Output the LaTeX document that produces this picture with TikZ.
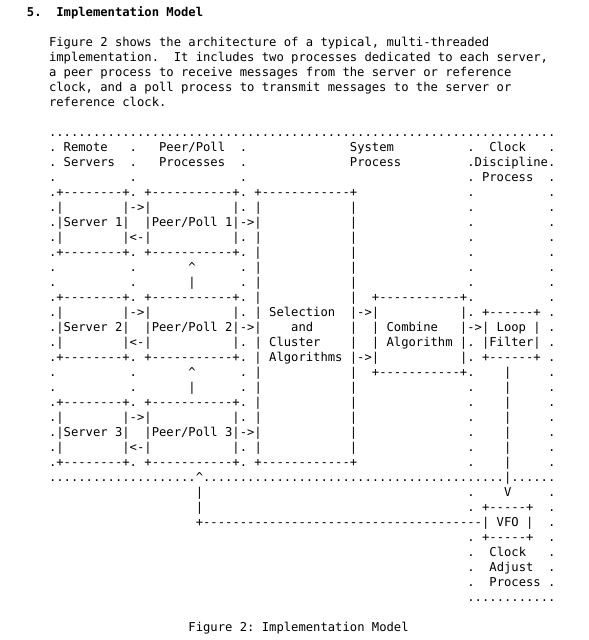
\documentclass[tikz,border=0pt]{standalone}
\usepackage{fontspec}
\setmonofont{DejaVu Sans Mono}
\ExplSyntaxOn
\newcommand\Rep[2]{\prg_replicate:nn{#1}{#2}}
\ExplSyntaxOff
\newcommand\sk[1]{\hskip#1\fontdimen2\font\relax}
\newcommand\BoxEdge{.+\Rep{8}{-}+.~+\Rep{11}{-}+.}
\newcommand\BoxIn{.|\sk{8}|->|\sk{11}|.}
\newcommand\BoxOut{.|\sk{8}|<-|\sk{11}|.}
\newcommand\BoxSrv[1]{.|Server~#1|\sk{2}|Peer/Poll~#1|->}
\newcommand\BoxGap[1]{.\sk{10}.\sk{7}#1\sk{6}.}
\newcommand\SelEmpty{|\sk{12}|}
\frenchspacing
\tikzset{
  txt/.style={anchor=base west, inner sep=0pt, outer sep=0pt,
    font=\ttfamily\fontsize{12.19pt}{15pt}\selectfont, text=black},
  txtb/.style={txt, font=\ttfamily\bfseries\fontsize{12.19pt}{15pt}\selectfont},
}
\begin{document}
\begin{tikzpicture}[x=1pt,y=-1pt]
\path[use as bounding box, fill=white] (0,0) rectangle (589,640);
% heading and prose
\node[txtb] (head) at ({27},{136-15*8}) {5.\sk{2}Implementation~Model};
\node[txt] (p1) at ({27+7.34*3},{136-15*6}) {Figure 2 shows the architecture of a typical, multi-threaded};
\node[txt] (p2) at ({27+7.34*3},{136-15*5}) {implementation.\sk{2}It includes two processes dedicated to each server,};
\node[txt] (p3) at ({27+7.34*3},{136-15*4}) {a peer process to receive messages from the server or reference};
\node[txt] (p4) at ({27+7.34*3},{136-15*3}) {clock, and a poll process to transmit messages to the server or};
\node[txt] (p5) at ({27+7.34*3},{136-15*2}) {reference clock.};
% diagram
\node[txt] (r0) at ({27+7.34*3},{136+15*0}) {\Rep{69}{.}};
\node[txt] (r1) at ({27+7.34*3},{136+15*1}) {.~Remote\sk{3}.\sk{3}Peer/Poll\sk{2}.\sk{14}System\sk{10}.\sk{2}Clock\sk{3}.};
\node[txt] (r2) at ({27+7.34*3},{136+15*2}) {.~Servers\sk{2}.\sk{3}Processes\sk{2}.\sk{14}Process\sk{9}.Discipline.};
\node[txt] (r3) at ({27+7.34*3},{136+15*3}) {.\sk{10}.\sk{14}.\sk{30}.~Process\sk{2}.};
\node[txt] (r4) at ({27+7.34*3},{136+15*4}) {\BoxEdge~+\Rep{12}{-}+\sk{15}.\sk{10}.};
\node[txt] (r5) at ({27+7.34*3},{136+15*5}) {\BoxIn~\SelEmpty\sk{15}.\sk{10}.};
\node[txt] (r6) at ({27+7.34*3},{136+15*6}) {\BoxSrv{1}\SelEmpty\sk{15}.\sk{10}.};
\node[txt] (r7) at ({27+7.34*3},{136+15*7}) {\BoxOut~\SelEmpty\sk{15}.\sk{10}.};
\node[txt] (r8) at ({27+7.34*3},{136+15*8}) {\BoxEdge~\SelEmpty\sk{15}.\sk{10}.};
\node[txt] (r9) at ({27+7.34*3},{136+15*9}) {\BoxGap{\textasciicircum}~\SelEmpty\sk{15}.\sk{10}.};
\node[txt] (r10) at ({27+7.34*3},{136+15*10}) {\BoxGap{|}~\SelEmpty\sk{15}.\sk{10}.};
\node[txt] (r11) at ({27+7.34*3},{136+15*11}) {\BoxEdge~\SelEmpty\sk{2}+\Rep{11}{-}+.\sk{10}.};
\node[txt] (r12) at ({27+7.34*3},{136+15*12}) {\BoxIn~|~Selection\sk{2}|->|\sk{11}|.~+\Rep{6}{-}+~.};
\node[txt] (r13) at ({27+7.34*3},{136+15*13}) {\BoxSrv{2}|\sk{4}and\sk{5}|\sk{2}|~Combine\sk{3}|->|~Loop~|~.};
\node[txt] (r14) at ({27+7.34*3},{136+15*14}) {\BoxOut~|~Cluster\sk{4}|\sk{2}|~Algorithm~|.~|Filter|~.};
\node[txt] (r15) at ({27+7.34*3},{136+15*15}) {\BoxEdge~|~Algorithms~|->|\sk{11}|.~+\Rep{6}{-}+~.};
\node[txt] (r16) at ({27+7.34*3},{136+15*16}) {\BoxGap{\textasciicircum}~\SelEmpty\sk{2}+\Rep{11}{-}+.\sk{4}|\sk{5}.};
\node[txt] (r17) at ({27+7.34*3},{136+15*17}) {\BoxGap{|}~\SelEmpty\sk{15}.\sk{4}|\sk{5}.};
\node[txt] (r18) at ({27+7.34*3},{136+15*18}) {\BoxEdge~\SelEmpty\sk{15}.\sk{4}|\sk{5}.};
\node[txt] (r19) at ({27+7.34*3},{136+15*19}) {\BoxIn~\SelEmpty\sk{15}.\sk{4}|\sk{5}.};
\node[txt] (r20) at ({27+7.34*3},{136+15*20}) {\BoxSrv{3}\SelEmpty\sk{15}.\sk{4}|\sk{5}.};
\node[txt] (r21) at ({27+7.34*3},{136+15*21}) {\BoxOut~\SelEmpty\sk{15}.\sk{4}|\sk{5}.};
\node[txt] (r22) at ({27+7.34*3},{136+15*22}) {\BoxEdge~+\Rep{12}{-}+\sk{15}.\sk{4}|\sk{5}.};
\node[txt] (r23) at ({27+7.34*3},{136+15*23}) {\Rep{20}{.}\textasciicircum\Rep{41}{.}|\Rep{6}{.}};
\node[txt] (r24) at ({27+7.34*23},{136+15*24}) {|\sk{36}.\sk{4}V\sk{5}.};
\node[txt] (r25) at ({27+7.34*23},{136+15*25}) {|\sk{36}.~+\Rep{5}{-}+\sk{2}.};
\node[txt] (r26) at ({27+7.34*23},{136+15*26}) {+\Rep{38}{-}|~VFO~|\sk{2}.};
\node[txt] (r27) at ({27+7.34*60},{136+15*27}) {.~+\Rep{5}{-}+\sk{2}.};
\node[txt] (r28) at ({27+7.34*60},{136+15*28}) {.\sk{2}Clock\sk{3}.};
\node[txt] (r29) at ({27+7.34*60},{136+15*29}) {.\sk{2}Adjust\sk{2}.};
\node[txt] (r30) at ({27+7.34*60},{136+15*30}) {.\sk{2}Process~.};
\node[txt] (r31) at ({27+7.34*60},{136+15*31}) {\Rep{12}{.}};
% caption
\node[txt] (cap) at ({27+7.34*22},{136+15*33}) {Figure 2: Implementation Model};
\end{tikzpicture}
\end{document}
